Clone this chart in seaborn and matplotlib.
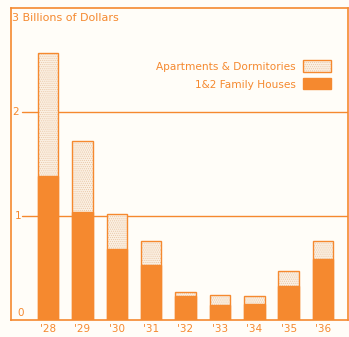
import matplotlib
matplotlib.use("Agg")
import matplotlib.pyplot as plt
import seaborn as sns
import pandas as pd
from matplotlib.patches import Rectangle

# Residential construction, billions of dollars
years = ["'28", "'29", "'30", "'31", "'32", "'33", "'34", "'35", "'36"]
family_houses = [1.38, 1.04, 0.68, 0.53, 0.23, 0.14, 0.15, 0.33, 0.59]
apartments = [1.19, 0.68, 0.34, 0.23, 0.04, 0.10, 0.08, 0.14, 0.17]

ORANGE = "#F5892F"
PAPER = "#FFFDF8"
PALE = "#FBF0E3"
DOTS = "#E9C6A5"

sns.set_theme(style="white")
plt.rcParams["font.family"] = ["DejaVu Sans"]
plt.rcParams["hatch.linewidth"] = 0.5

df = pd.DataFrame({"year": years, "houses": family_houses, "apartments": apartments})
df["total"] = df["houses"] + df["apartments"]

fig = plt.figure(figsize=(3.49, 3.37), dpi=100, facecolor=PAPER)
ax = fig.add_axes([11 / 349, 17 / 337, 337 / 349, 312 / 337])
ax.set_facecolor(PAPER)

# gridlines at 1 and 2 billion, starting just right of the labels
for lvl in (1, 2):
    ax.axhline(lvl, xmin=0.033, xmax=1, color=ORANGE, lw=1.0, zorder=1)

bw = 0.6
# stippled apartment portion (full stack height)
sns.barplot(data=df, x="year", y="total", color=PALE, width=bw, ax=ax,
            edgecolor=DOTS, linewidth=0, hatch="........", saturation=1, zorder=2)
# orange outline around the full stack
sns.barplot(data=df, x="year", y="total", width=bw, ax=ax, fill=False,
            edgecolor=ORANGE, linewidth=1.0, zorder=3)
# solid family-houses portion
sns.barplot(data=df, x="year", y="houses", color=ORANGE, width=bw, ax=ax,
            edgecolor=ORANGE, linewidth=1.0, saturation=1, zorder=4)

ax.set_xlim(-1.08, 8.73)
ax.set_ylim(0, 3)
ax.set_xlabel("")
ax.set_ylabel("")
ax.set_yticks([])
ax.tick_params(axis="x", length=0, pad=3, labelsize=7.5, labelcolor=ORANGE)
for lab in ax.get_xticklabels():
    lab.set_fontweight("medium")
for s in ax.spines.values():
    s.set_color(ORANGE)
    s.set_linewidth(1.2)

fs = 7.5
tr = ax.get_yaxis_transform()
ax.text(0.005, 2.0, "2", transform=tr, color=ORANGE, fontsize=fs, va="center", ha="left")
ax.text(0.012, 1.0, "1", transform=tr, color=ORANGE, fontsize=fs, va="center", ha="left")
ax.text(0.018, 0.07, "0", transform=tr, color=ORANGE, fontsize=fs, va="center", ha="left")
ax.text(0.003, 2.9, "3 Billions of Dollars", transform=tr, color=ORANGE,
        fontsize=8.0, va="center", ha="left")

# legend
fig.text(296 / 349, 1 - 67 / 337, "Apartments & Dormitories", color=ORANGE,
         fontsize=7.6, ha="right", va="center")
fig.text(296 / 349, 1 - 85 / 337, "1&2 Family Houses", color=ORANGE,
         fontsize=7.6, ha="right", va="center")
fig.patches.append(Rectangle((303 / 349, 1 - 72 / 337), 28 / 349, 12 / 337,
                             transform=fig.transFigure, facecolor=PALE,
                             edgecolor=DOTS, hatch="........", lw=0))
fig.patches.append(Rectangle((303 / 349, 1 - 72 / 337), 28 / 349, 12 / 337,
                             transform=fig.transFigure, fill=False,
                             edgecolor=ORANGE, lw=1.0))
fig.patches.append(Rectangle((303 / 349, 1 - 89 / 337), 28 / 349, 11 / 337,
                             transform=fig.transFigure, facecolor=ORANGE,
                             edgecolor=ORANGE, lw=1.0))

fig.savefig("out.png", dpi=100, facecolor=PAPER)
